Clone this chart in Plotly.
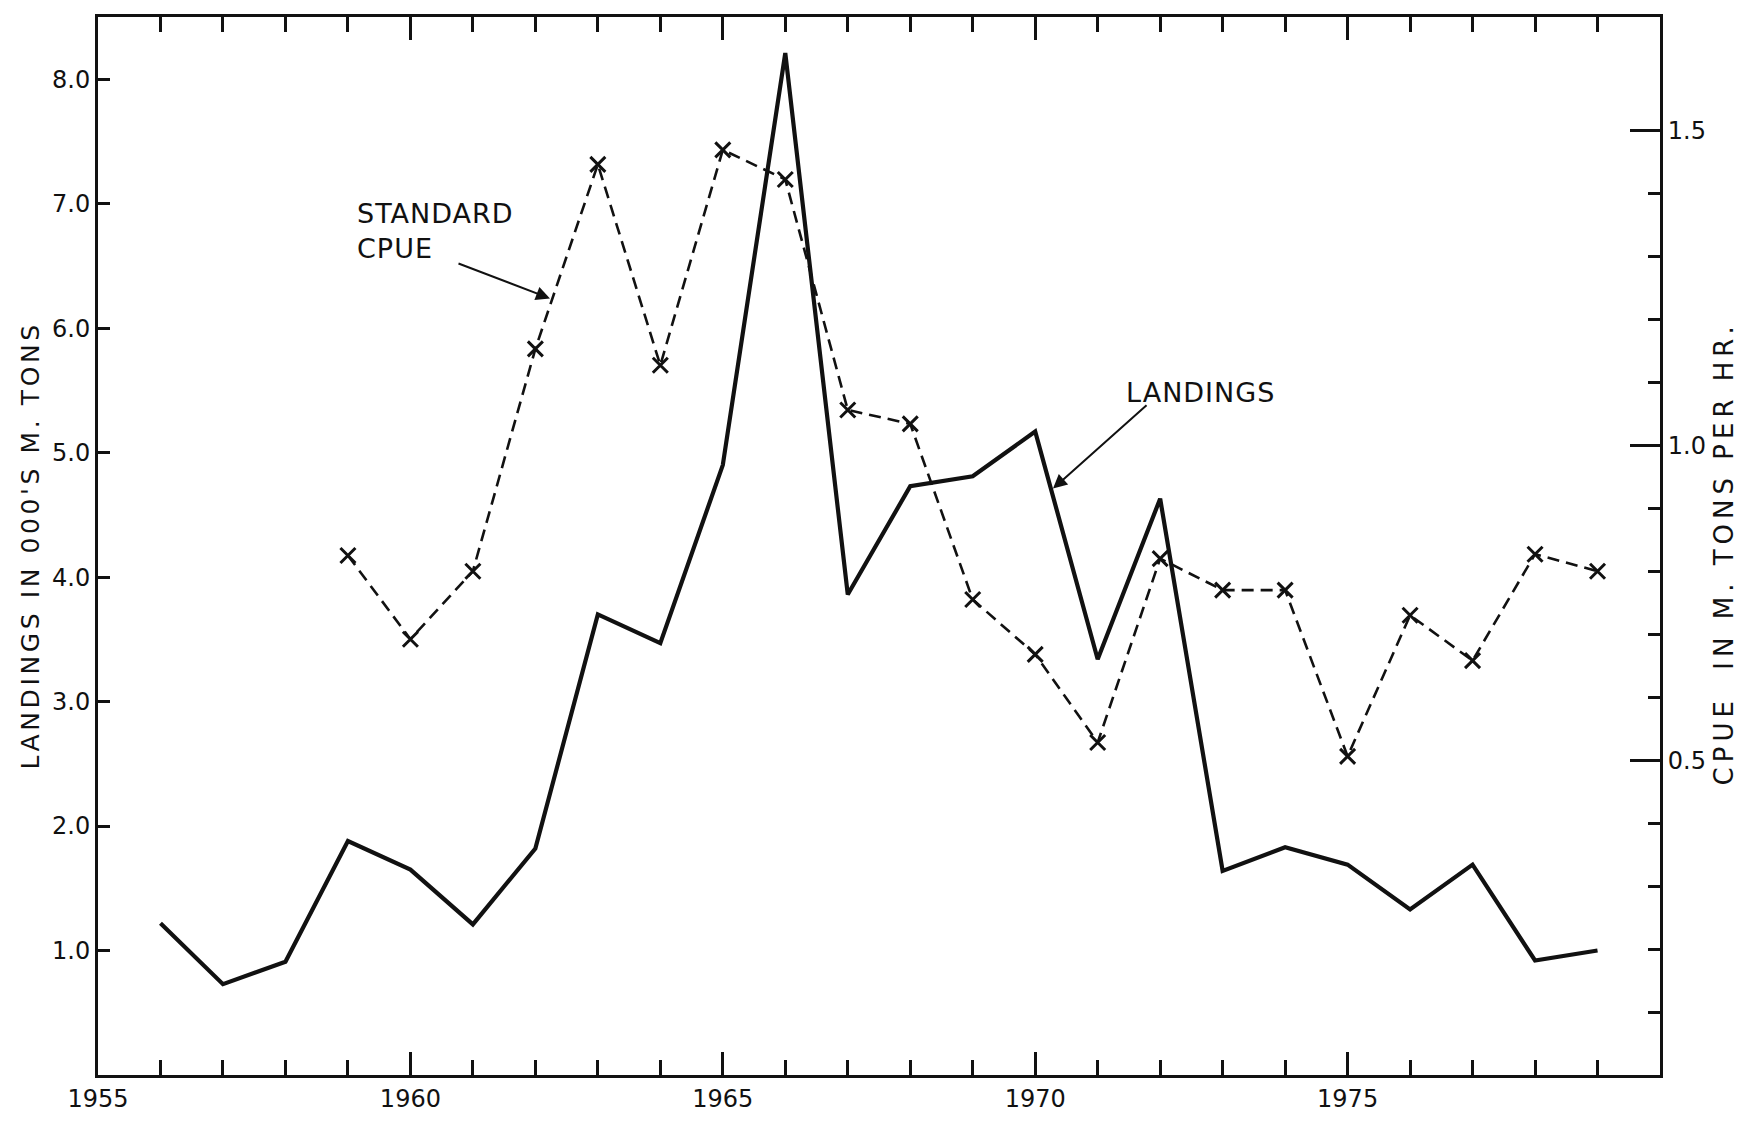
import plotly.graph_objects as go

# ---- data ----
years = list(range(1956, 1980))
landings = [1.22, 0.73, 0.91, 1.88, 1.65, 1.21, 1.82, 3.70, 3.47, 4.90, 8.21, 3.86,
            4.73, 4.81, 5.17, 3.34, 4.63, 1.64, 1.83, 1.69, 1.33, 1.69, 0.92, 1.00]

cpue_years = list(range(1959, 1980))
cpue = [0.825, 0.692, 0.80, 1.153, 1.446, 1.127, 1.469, 1.422, 1.056, 1.034, 0.755,
        0.668, 0.528, 0.82, 0.77, 0.77, 0.506, 0.73, 0.658, 0.827, 0.80]

x_tickvals = [1955, 1960, 1965, 1970, 1975]
x_ticktext = ["1955", "1960", "1965", "1970", "1975"]
left_tickvals = [1, 2, 3, 4, 5, 6, 7, 8]
left_ticktext = ["1.0", "2.0", "3.0", "4.0", "5.0", "6.0", "7.0", "8.0"]
right_tickvals = [0.5, 1.0, 1.5]
right_ticktext = ["0.5", "1.0", "1.5"]
right_minor = [0.1, 0.2, 0.3, 0.4, 0.6, 0.7, 0.8, 0.9, 1.1, 1.2, 1.3, 1.4]

FONT = "DejaVu Sans"
INK = "#111111"

fig = go.Figure()
fig.add_trace(go.Scatter(
    x=years, y=landings, mode="lines", name="LANDINGS",
    line=dict(color=INK, width=4.2), yaxis="y", showlegend=False))
fig.add_trace(go.Scatter(
    x=cpue_years, y=cpue, mode="lines+markers", name="STANDARD CPUE",
    line=dict(color=INK, width=2.6, dash="12px,7px"),
    marker=dict(symbol="x-thin", size=15, color=INK, line=dict(color=INK, width=3)),
    yaxis="y2", showlegend=False))

axis_common = dict(showgrid=False, zeroline=False, showline=True, linewidth=3,
                   linecolor=INK, tickcolor=INK, tickwidth=2.5, ticks="inside",
                   tickfont=dict(family=FONT, size=24, color=INK))

fig.update_layout(
    width=1743, height=1125,
    margin=dict(l=98, r=83, t=17, b=35),
    paper_bgcolor="white", plot_bgcolor="white",
    font=dict(family=FONT, color=INK),
    xaxis=dict(range=[1955, 1980], tickmode="array", tickvals=x_tickvals,
               ticktext=x_ticktext, ticklen=23, mirror="ticks",
               minor=dict(dtick=1, tick0=1955, ticklen=15, tickwidth=2.5,
                          tickcolor=INK, ticks="inside", showgrid=False),
               **axis_common),
    yaxis=dict(range=[0, 8.5], tickmode="array", tickvals=left_tickvals,
               ticktext=left_ticktext, ticklen=12, **axis_common),
    yaxis2=dict(range=[0, 1.68], overlaying="y", side="right", tickmode="array",
                tickvals=right_tickvals, ticktext=right_ticktext, ticklen=30,
                minor=dict(tickmode="array", tickvals=right_minor, ticklen=12,
                           tickwidth=2.5, tickcolor=INK, ticks="inside", showgrid=False),
                **axis_common),
)

left_title_font = dict(family=FONT, size=25, color=INK)
right_title_font = dict(family=FONT, size=26, color=INK)
note_font = dict(family=FONT, size=27, color=INK)

annotations = [
    dict(text="LANDINGS IN 000'S M. TONS", xref="paper", yref="paper",
         x=-0.0435, y=0.5005, textangle=-90, showarrow=False,
         xanchor="center", yanchor="middle", font=left_title_font),
    dict(text="CPUE  IN M. TONS PER HR.", xref="paper", yref="paper",
         x=1.041, y=0.493, textangle=-90, showarrow=False,
         xanchor="center", yanchor="middle", font=right_title_font),
    dict(text="STANDARD<br>CPUE", xref="x", yref="y", x=1959.113, y=6.778,
         xanchor="left", yanchor="middle", align="left", showarrow=False, font=note_font),
    dict(text="", xref="x", yref="y", x=1962.234, y=6.239, axref="x", ayref="y",
         ax=1960.746, ay=6.524, showarrow=True, arrowhead=2, arrowsize=1.4,
         arrowwidth=2, arrowcolor=INK),
    dict(text="LANDINGS", xref="x", yref="y", x=1972.638, y=5.487,
         xanchor="center", yanchor="middle", showarrow=False, font=note_font),
    dict(text="", xref="x", yref="y", x=1970.285, y=4.711, axref="x", ayref="y",
         ax=1971.806, ay=5.392, showarrow=True, arrowhead=2, arrowsize=1.4,
         arrowwidth=2, arrowcolor=INK),
]
fig.update_layout(annotations=annotations)

# widen letter spacing of the hand-lettered labels (CSS only; text stays the same)
post = """
document.body.style.margin='0';
var gd = document.getElementById('{plot_id}');
function spacing(){
  var sp = {0: '3.6px', 1: '5px', 2: '1px', 4: '1px'};
  Object.keys(sp).forEach(function(k){
    document.querySelectorAll('g.annotation[data-index="' + k + '"] text').forEach(function(t){
      t.style.letterSpacing = sp[k];
    });
  });
}
spacing();
if (gd && gd.on) { gd.on('plotly_afterplot', spacing); }
setTimeout(spacing, 50);
"""

fig.write_html("out.html", config={"displayModeBar": False}, post_script=post)
